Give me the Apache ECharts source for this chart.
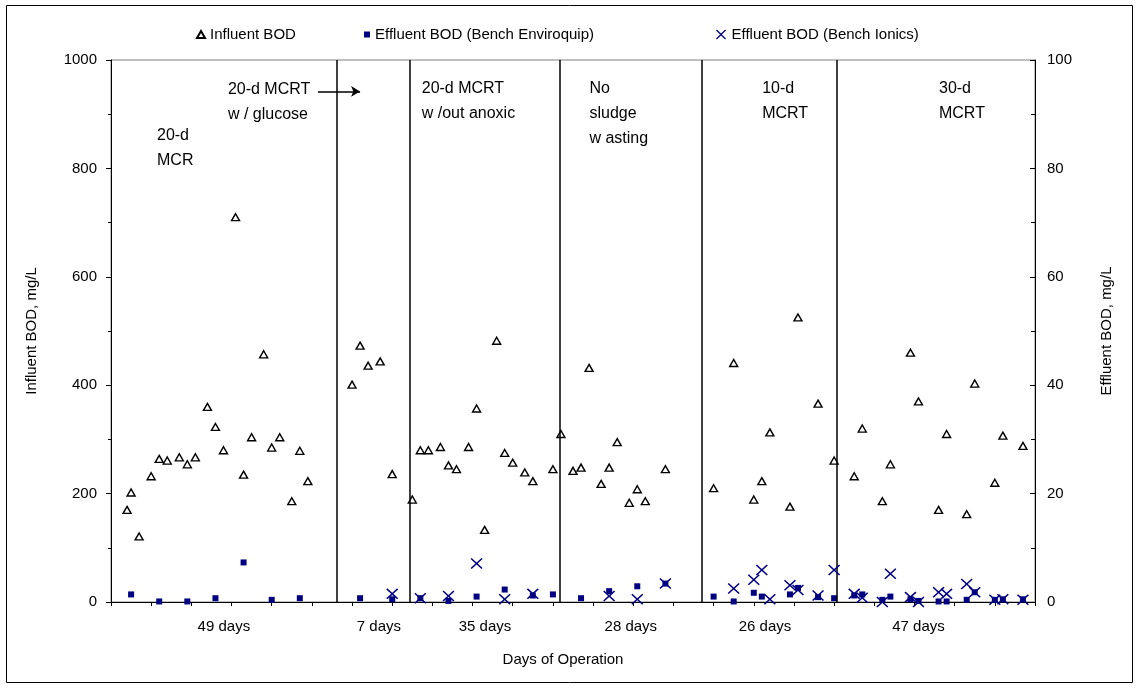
<!DOCTYPE html>
<html>
<head>
<meta charset="utf-8">
<script src="https://cdn.jsdelivr.net/npm/echarts@6/dist/echarts.min.js"></script>
<style>
  html, body { margin: 0; padding: 0; background: #fff; }
  #chart { width: 1139px; height: 689px; }
</style>
</head>
<body>
<div id="chart"></div>
<script>
// Influent BOD (mg/L, left axis) by day of operation
const influentDays = [4, 5, 7, 10, 12, 14, 17, 19, 21, 24, 26, 28, 31, 33, 35, 38, 40, 42, 45, 47, 49,
  60, 62, 64, 67, 70,
  75, 77, 79, 82, 84, 86, 89, 91, 93, 96, 98, 100, 103, 105, 110, 112,
  115, 117, 119, 122, 124, 126, 129, 131, 133, 138,
  150, 155, 160, 162, 164, 169, 171, 176, 180,
  185, 187, 192, 194, 199, 201, 206, 208, 213, 215, 220, 222, 227];
const influentBOD = [170, 202, 121, 232, 264, 261, 267, 254, 267, 360, 323, 280, 710, 235, 304, 457, 285, 304, 186, 279, 223,
  401, 473, 436, 444, 236,
  189, 280, 280, 286, 252, 245, 286, 357, 133, 482, 275, 257, 239, 223, 245, 310,
  242, 248, 432, 218, 248, 295, 183, 208, 186, 245,
  210, 441, 189, 223, 313, 176, 525, 366, 261,
  232, 320, 186, 254, 460, 370, 170, 310, 162, 403, 220, 307, 288];

// Effluent BOD, Bench Enviroquip (mg/L, right axis)
const enviroquipDays = [5, 12, 19, 26, 33, 40, 47,
  62, 70,
  77, 84, 91, 98, 105, 110,
  117, 124, 131, 138,
  150, 155, 160, 162, 169, 171, 176, 180,
  185, 187, 192, 194, 199, 201, 206, 208, 213, 215, 220, 222, 227];
const enviroquipBOD = [1.4, 0.1, 0.1, 0.7, 7.3, 0.4, 0.7,
  0.7, 0.5,
  0.7, 0.2, 1.0, 2.3, 1.2, 1.4,
  0.7, 2.0, 2.9, 3.4,
  1.0, 0.1, 1.7, 1.0, 1.4, 2.6, 0.9, 0.7,
  1.2, 1.4, 0.4, 1.0, 0.5, 0.2, 0.1, 0.1, 0.4, 1.8, 0.4, 0.5, 0.5];

// Effluent BOD, Bench Ionics (mg/L, right axis)
const ionicsDays = [70,
  77, 84, 91, 98, 105,
  124, 131, 138,
  155, 160, 162, 164, 169, 171, 176, 180,
  185, 187, 192, 194, 199, 201, 206, 208, 213, 215, 220, 222, 227];
const ionicsBOD = [1.5,
  0.7, 1.1, 7.1, 0.5, 1.5,
  1.1, 0.5, 3.4,
  2.5, 4.1, 5.9, 0.5, 3.1, 2.2, 1.2, 5.9,
  1.5, 0.8, 0.0, 5.2, 0.9, 0.0, 1.8, 1.5, 3.3, 1.8, 0.4, 0.5, 0.4];

// Days at which the operating condition changed
const phaseBounds = [56.2, 74.3, 111.7, 147, 180.7];
// Phase duration labels under the axis, and the day they are centred on
const phaseLabels = ['49 days', '7 days', '35 days', '28 days', '26 days', '47 days'];
const phaseLabelDay = [28.1, 66.7, 93.1, 129.4, 162.8, 201];

// Operating-condition notes inside the plot: left edge day, first-line level (left axis)
const notes = [
  { day: 11.45, level: 860, lines: ['20-d', 'MCR'] },
  { day: 29.1, level: 946, lines: ['20-d MCRT', 'w / glucose'] },
  { day: 77.35, level: 948, lines: ['20-d MCRT', 'w /out anoxic'] },
  { day: 119.1, level: 948, lines: ['No', 'sludge', 'w asting'] },
  { day: 162.1, level: 948, lines: ['10-d', 'MCRT'] },
  { day: 206.1, level: 948, lines: ['30-d', 'MCRT'] }
];
// Arrow from the glucose note into its phase
const arrowFrom = [51.5, 942];
const arrowTo = [62, 942];

const FONT = "'Liberation Sans', Arial, sans-serif";
const NAVY = '#000080';
const CROSS = 'path://M0,1.1L1.1,0L6,4.9L10.9,0L12,1.1L7.1,6L12,10.9L10.9,12L6,7.1L1.1,12L0,10.9L4.9,6Z';

const zip = (d, v) => d.map((x, i) => [x, v[i]]);

const chart = echarts.init(document.getElementById('chart'));

const legendText = { fontSize: 15, color: '#000', fontFamily: FONT };

chart.setOption({
  animation: false,
  backgroundColor: '#fff',
  textStyle: { fontFamily: FONT, color: '#000' },
  grid: {
    left: 111, right: 104, top: 60, bottom: 87,
    show: true, borderColor: '#808080', borderWidth: 1, backgroundColor: '#fff'
  },
  legend: [
    { data: ['Influent BOD'], left: 191, top: 22, itemWidth: 8, itemHeight: 7, itemGap: 0, textStyle: legendText, selectedMode: false },
    { data: ['Effluent BOD (Bench Enviroquip)'], left: 359, top: 22, itemWidth: 6, itemHeight: 6, itemGap: 0, textStyle: legendText, selectedMode: false },
    { data: ['Effluent BOD (Bench Ionics)'], left: 711, top: 22, itemWidth: 11, itemHeight: 10, itemGap: 0, textStyle: legendText, selectedMode: false }
  ],
  xAxis: {
    type: 'value', min: 0, max: 230, interval: 10,
    axisLine: { lineStyle: { color: '#000', width: 1 } },
    axisTick: { show: true, length: 4, lineStyle: { color: '#000' } },
    axisLabel: { show: false },
    splitLine: { show: false }
  },
  yAxis: [
    {
      type: 'value', min: 0, max: 1000, interval: 200,
      axisLine: { show: true, lineStyle: { color: '#000', width: 1 } },
      axisTick: { show: true, length: 5, lineStyle: { color: '#000' } },
      minorTick: { show: true, splitNumber: 2, length: 3, lineStyle: { color: '#000' } },
      axisLabel: { fontSize: 15, color: '#000', fontFamily: FONT, margin: 14, formatter: v => String(v) },
      splitLine: { show: false }
    },
    {
      type: 'value', min: 0, max: 100, interval: 20, position: 'right',
      axisLine: { show: true, lineStyle: { color: '#000', width: 1 } },
      axisTick: { show: true, inside: true, length: 5, lineStyle: { color: '#000' } },
      minorTick: { show: true, splitNumber: 2, length: 4, lineStyle: { color: '#000' } },
      axisLabel: { fontSize: 15, color: '#000', fontFamily: FONT, margin: 12, formatter: v => String(v) },
      splitLine: { show: false }
    }
  ],
  series: [
    {
      name: 'Influent BOD', type: 'scatter', yAxisIndex: 0,
      data: zip(influentDays, influentBOD),
      symbol: 'triangle', symbolSize: [8, 7],
      itemStyle: { color: '#fff', borderColor: '#000', borderWidth: 1.4, opacity: 1 },
      z: 4,
      markLine: {
        silent: true, symbol: 'none', animation: false,
        label: { show: false },
        lineStyle: { color: '#000', width: 1.5, type: 'solid' },
        emphasis: { disabled: true },
        data: phaseBounds.map(d => ({ xAxis: d })).concat([[
          { coord: arrowFrom, symbol: 'none' },
          { coord: arrowTo, symbol: 'arrow', symbolSize: [8, 9] }
        ]])
      }
    },
    {
      name: 'Effluent BOD (Bench Enviroquip)', type: 'scatter', yAxisIndex: 1,
      data: zip(enviroquipDays, enviroquipBOD),
      symbol: 'rect', symbolSize: 6,
      itemStyle: { color: NAVY, opacity: 1 },
      z: 3
    },
    {
      name: 'Effluent BOD (Bench Ionics)', type: 'scatter', yAxisIndex: 1,
      data: zip(ionicsDays, ionicsBOD),
      symbol: CROSS, symbolSize: [12, 11],
      itemStyle: { color: NAVY, opacity: 1 },
      z: 5
    }
  ]
});

// Text overlays placed through the chart's own coordinate system
function overlays() {
  const g = [];
  g.push({
    type: 'rect', silent: true,
    shape: { x: 6.5, y: 5.5, width: 1126, height: 677 },
    style: { fill: null, stroke: '#000', lineWidth: 1 }
  });
  notes.forEach(n => {
    const p = chart.convertToPixel({ xAxisIndex: 0, yAxisIndex: 0 }, [n.day, n.level]);
    g.push({
      type: 'text', silent: true, x: p[0], y: p[1] - 12.5, z: 10,
      style: { text: n.lines.join('\n'), fontSize: 16, fontFamily: FONT, fill: '#000',
               lineHeight: 25, align: 'left', verticalAlign: 'top' }
    });
  });
  phaseLabels.forEach((t, i) => {
    const p = chart.convertToPixel({ xAxisIndex: 0, yAxisIndex: 0 }, [phaseLabelDay[i], 0]);
    g.push({
      type: 'text', silent: true, x: p[0], y: 627,
      style: { text: t, fontSize: 15, fontFamily: FONT, fill: '#000', align: 'center', verticalAlign: 'middle' }
    });
  });
  g.push({
    type: 'text', silent: true, x: 563, y: 660,
    style: { text: 'Days of Operation', fontSize: 15, fontFamily: FONT, fill: '#000', align: 'center', verticalAlign: 'middle' }
  });
  g.push({
    type: 'text', silent: true, x: 32, y: 331, rotation: Math.PI / 2,
    style: { text: 'Influent BOD, mg/L', fontSize: 15, fontFamily: FONT, fill: '#000', align: 'center', verticalAlign: 'middle' }
  });
  g.push({
    type: 'text', silent: true, x: 1107, y: 331, rotation: Math.PI / 2,
    style: { text: 'Effluent BOD, mg/L', fontSize: 15, fontFamily: FONT, fill: '#000', align: 'center', verticalAlign: 'middle' }
  });
  chart.setOption({ graphic: g });
}
overlays();
</script>
</body>
</html>
